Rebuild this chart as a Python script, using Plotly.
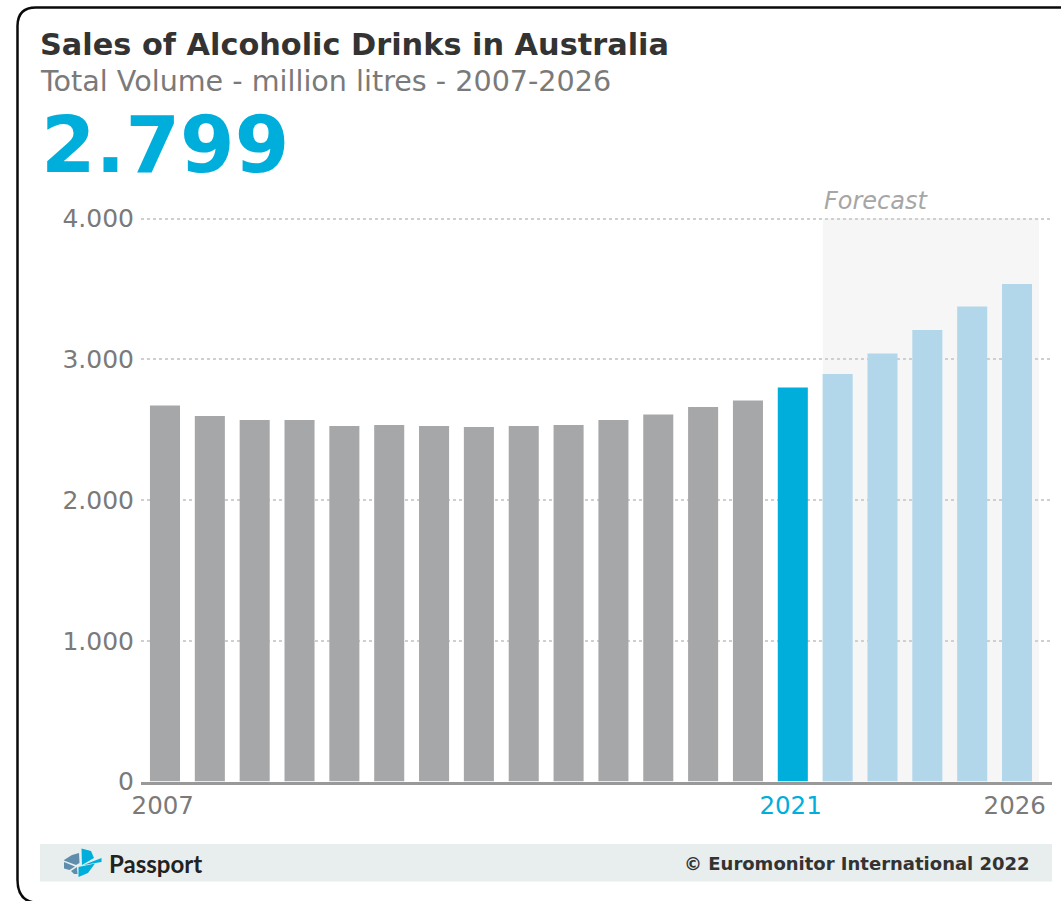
import plotly.graph_objects as go

WIDTH, HEIGHT = 1061, 901

years = list(range(2007, 2027))
volume = [2671, 2597, 2568, 2568, 2526, 2533, 2526, 2519, 2526, 2533,
          2568, 2608, 2661, 2707, 2799, 2895, 3041, 3208, 3375, 3535]
current_year = 2021
x_tick_years = [2007, 2021, 2026]
y_ticks = [0, 1000, 2000, 3000, 4000]

GREY = "#a6a7a9"
CYAN = "#00aedb"
PALE = "#b2d7ea"
TICK = "#7a7a7a"
DARK = "#333333"
FONT = "DejaVu Sans"

# The value axis runs a little past its top tick so the 4.000 gridline is kept
Y_MAX = 4020
PX_PER_UNIT = (781.5 - 218.5) / 4000
PLOT_TOP = 781.5 - Y_MAX * PX_PER_UNIT


def px(x):
    return x / WIDTH


def py(y):
    return 1 - y / HEIGHT


def path_from(points):
    """Closed polygon path in paper units from pixel points."""
    head = " L ".join(f"{px(x):.5f} {py(y):.5f}" for x, y in points)
    return f"M {head} Z"


def logo_shape(points, color):
    return dict(type="path", xref="paper", yref="paper", layer="above",
                path=path_from(points), fillcolor=color, line=dict(width=0))


bar_colors = [CYAN if y == current_year else (PALE if y > current_year else GREY)
              for y in years]

fig = go.Figure(go.Bar(x=years, y=volume, marker=dict(color=bar_colors, line=dict(width=0)),
                       hoverinfo="x+y", width=0.67))

# Rounded card outline, running off the right and bottom of the page
card = (f"M {px(1075):.5f} {py(7.5):.5f} L {px(36):.5f} {py(7.5):.5f} "
        f"Q {px(17.5):.5f} {py(7.5):.5f} {px(17.5):.5f} {py(26):.5f} "
        f"L {px(17.5):.5f} {py(880):.5f} "
        f"Q {px(17.5):.5f} {py(903):.5f} {px(40):.5f} {py(903):.5f} L {px(1075):.5f} {py(903):.5f}")

shapes = [
    dict(type="path", xref="paper", yref="paper", layer="below", path=card,
         line=dict(color="#0a0a0a", width=2.5)),
    # Shaded forecast period
    dict(type="rect", xref="x", yref="paper", layer="below",
         x0=2021.67, x1=2026.49, y0=py(781.5), y1=py(218.5),
         fillcolor="#f6f6f6", line=dict(width=0)),
    # Footer band
    dict(type="rect", xref="paper", yref="paper", layer="below",
         x0=px(40), x1=px(1052), y0=py(881.5), y1=py(844),
         fillcolor="#e8eeee", line=dict(width=0)),
    # Passport mark
    logo_shape([(64, 860), (72, 855), (79, 853), (79.5, 863), (76, 865), (64, 860.5)], "#5f8dab"),
    logo_shape([(64, 862), (75, 866.5), (69.5, 870), (64, 868.5)], "#5f8dab"),
    logo_shape([(71, 871), (77, 867), (77.5, 874), (74, 874)], "#5f8dab"),
    logo_shape([(81.5, 848.5), (91, 851), (94, 858), (82, 865)], CYAN),
    logo_shape([(83.5, 865), (101.5, 858), (101.5, 862)], CYAN),
    logo_shape([(78.5, 867), (95, 863.5), (88, 873), (78.5, 877)], CYAN),
]

annotations = [
    dict(text="<b>Sales of Alcoholic Drinks in Australia</b>", x=px(40), y=py(44),
         font=dict(size=30.35, color=DARK, family=FONT)),
    dict(text="Total Volume - million litres - 2007-2026", x=px(40), y=py(81),
         font=dict(size=28.6, color=TICK, family=FONT)),
    dict(text="<b>2.799</b>", x=px(41), y=py(145),
         font=dict(size=78.5, color=CYAN, family=FONT)),
    dict(text="<i>Forecast</i>", x=px(824), y=py(201),
         font=dict(size=24, color="#a6a6a6", family=FONT)),
    dict(text="Passport", x=px(109), y=py(863),
         font=dict(size=24, color="#222222", family="Lato", weight=700)),
    dict(text="<b>© Euromonitor International 2022</b>", x=px(1030), y=py(863), xanchor="right",
         font=dict(size=18, color=DARK, family=FONT)),
]
for a in annotations:
    a.update(xref="paper", yref="paper", showarrow=False, yanchor="middle", borderpad=0, borderwidth=0)
    a.setdefault("xanchor", "left")

fig.update_layout(
    width=WIDTH, height=HEIGHT, margin=dict(l=0, r=0, t=0, b=0, pad=0, autoexpand=False),
    paper_bgcolor="white", plot_bgcolor="rgba(0,0,0,0)",
    separators=",.", showlegend=False, bargap=0.33,
    font=dict(family=FONT, color=TICK, size=24),
    shapes=shapes, annotations=annotations,
    xaxis=dict(
        domain=[px(141), px(1052)], range=[2007 - 0.535, 2007 + 19.78], automargin=False,
        tickmode="array", tickvals=[y - 0.05 for y in x_tick_years],
        ticktext=[f'<span style="color:{CYAN}">{y}</span>' if y == current_year else str(y)
                  for y in x_tick_years],
        showgrid=False, zeroline=False, showline=True, linecolor="#999999", linewidth=3,
        ticks="", ticklabelstandoff=0, tickfont=dict(size=24.5, color=TICK, family=FONT),
    ),
    yaxis=dict(
        domain=[py(781.5), py(PLOT_TOP)], range=[0, Y_MAX], automargin=False,
        tickmode="array", tickvals=y_ticks, tickformat=",d",
        showgrid=True, gridcolor="#cfcfcf", gridwidth=1.5, griddash="3px,3px",
        zeroline=False, showline=False, ticks="", ticklabelstandoff=6,
        tickfont=dict(size=25, color=TICK, family=FONT),
    ),
)

fig.write_html("out.html")
